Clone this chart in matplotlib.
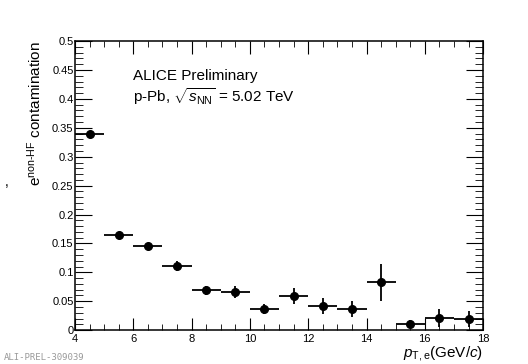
import matplotlib.pyplot as plt
from matplotlib.ticker import MultipleLocator

plt.rcParams["font.family"] = ["Liberation Sans", "DejaVu Sans"]
plt.rcParams["mathtext.fontset"] = "custom"
plt.rcParams["mathtext.rm"] = "Liberation Sans"
plt.rcParams["mathtext.it"] = "Liberation Sans:italic"

# bin centres, half-widths and contamination values
pt_centres = [4.5, 5.5, 6.5, 7.5, 8.5, 9.5, 10.5, 11.5, 12.5, 13.5, 14.5, 15.5, 16.5, 17.5]
pt_halfwidth = [0.5] * 14
contamination = [0.340, 0.165, 0.145, 0.111, 0.069, 0.066, 0.037, 0.059, 0.042, 0.036, 0.083, 0.010, 0.021, 0.019]
stat_err = [0.004, 0.003, 0.005, 0.008, 0.008, 0.010, 0.009, 0.014, 0.014, 0.014, 0.032, 0.007, 0.015, 0.014]

fig = plt.figure(figsize=(5.28, 3.64), dpi=100)
ax = fig.add_axes([0.142, 0.093, 0.773, 0.794])

ax.errorbar(pt_centres, contamination, xerr=pt_halfwidth, yerr=stat_err,
            fmt="o", color="black", ms=5.5, elinewidth=1.3, capsize=0)

ax.set_xlim(4, 18)
ax.set_ylim(0, 0.5)
ax.xaxis.set_major_locator(MultipleLocator(2))
ax.xaxis.set_minor_locator(MultipleLocator(0.5))
ax.yaxis.set_major_locator(MultipleLocator(0.05))
ax.yaxis.set_minor_locator(MultipleLocator(0.01))
ax.yaxis.set_major_formatter(plt.FuncFormatter(lambda v, p: f"{v:g}"))
ax.tick_params(which="both", direction="in", top=True, right=True, labelsize=8, pad=1)
ax.tick_params(axis="x", which="major", pad=2.5)
ax.tick_params(axis="y", which="major", length=12)
ax.tick_params(axis="y", which="minor", length=6)
ax.tick_params(axis="x", which="major", length=9)
ax.tick_params(axis="x", which="minor", length=4.5)
for s in ax.spines.values():
    s.set_linewidth(1.1)

ax.set_ylabel(r"$\mathregular{e^{non\text{-}HF}}$ contamination", fontsize=11, loc="top", labelpad=6)
ax.set_xlabel(r"$p_{\mathregular{T,e}}$(GeV/$c$)", fontsize=11, loc="right", labelpad=0)

ax.text(0.142, 0.864, "ALICE Preliminary", transform=ax.transAxes, fontsize=11)
ax.text(0.142, 0.79, r"p-Pb, $\sqrt{s_{\mathregular{NN}}}$ = 5.02 TeV", transform=ax.transAxes, fontsize=11)

fig.text(0.01, 0.49, ",", fontsize=10)
fig.text(0.008, 0.012, "ALI-PREL-309039", family="DejaVu Sans Mono", fontsize=6.5, color="#999999")

fig.savefig("out.png", dpi=100)
